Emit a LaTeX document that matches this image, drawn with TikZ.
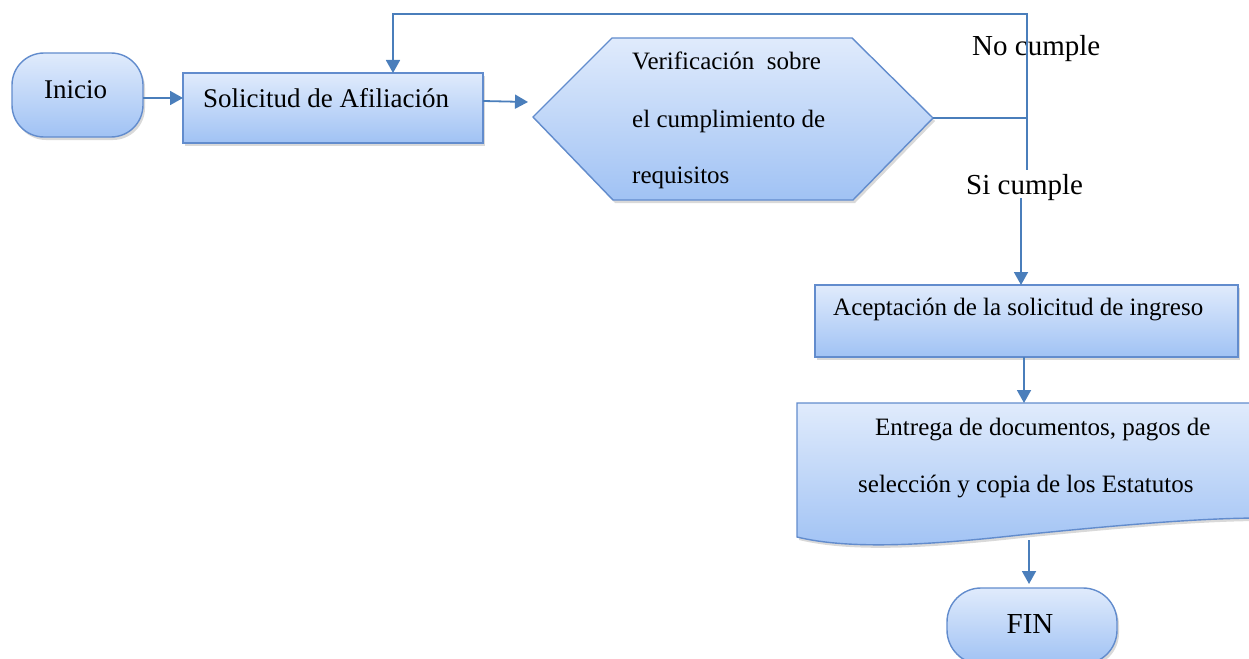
\documentclass[tikz,border=0pt]{standalone}
\usepackage{fontspec}
\setmainfont{Liberation Serif}
\usetikzlibrary{arrows.meta,shadows}
\definecolor{edgec}{RGB}{98,140,205}
\definecolor{topc}{RGB}{224,235,252}
\definecolor{botc}{RGB}{160,194,244}
\definecolor{connc}{RGB}{74,126,187}
\tikzset{
 boxshape/.style={draw=edgec, line width=1.4pt, top color=topc, bottom color=botc,
   drop shadow={shadow xshift=2pt,shadow yshift=-3pt,opacity=0.3}},
 flow/.style={draw=connc, line width=1.8pt, -{Triangle[length=13pt,width=14pt]}},
 plain/.style={draw=connc, line width=1.8pt},
 big/.style={font=\fontsize{27}{31}\selectfont, inner sep=0pt, anchor=base west},
 lbl/.style={font=\fontsize{29}{33}\selectfont, inner sep=0pt, anchor=base west},
 small/.style={font=\fontsize{25}{29}\selectfont, inner sep=0pt, anchor=base west},
}
\begin{document}
\begin{tikzpicture}[x=1pt,y=-1pt]
\useasboundingbox (0,0) rectangle (1249,658);

% shapes
\node[boxshape, rounded corners=32pt, minimum width=131pt, minimum height=84pt, inner sep=0pt] (inicio) at (77.5,95) {};
\node[boxshape, minimum width=300pt, minimum height=70pt, inner sep=0pt] (sol) at (333,108) {};
\coordinate (hexL) at (533,117);
\coordinate (hexR) at (933,118);
\path[boxshape] (hexL) -- (612,38) -- (852,38) -- (hexR) -- (853,200) -- (613,200) -- cycle;
\node[boxshape, minimum width=423pt, minimum height=72pt, inner sep=0pt] (acep) at (1026.5,321) {};
\path[boxshape] (797,403) -- (1262,403) -- (1262,518)
  .. controls (1200,518) and (1120,525) .. (1020,535)
  .. controls (930,545) and (850,550) .. (797,537) -- cycle;
\node[boxshape, rounded corners=34pt, minimum width=170pt, minimum height=76pt, inner sep=0pt] (fin) at (1032,626) {};

% texts
\node[big] (tinicio) at (44,99) {Inicio};
\node[big] (tsol) at (203,107) {Solicitud de Afiliación};
\node[small] (th1) at (632,70) {Verificación\ \ sobre};
\node[small] (th2) at (632,128) {el cumplimiento de};
\node[small] (th3) at (632,183) {requisitos};
\node[small] (tacep) at (833,315) {Aceptación de la solicitud de ingreso};
\node[small] (td1) at (875,435) {Entrega de documentos, pagos de};
\node[small] (td2) at (858,492) {selección y copia de los Estatutos};
\node[lbl, anchor=base] (tfin) at (1030,633) {FIN};
\node[lbl] (nolbl) at (972,56) {No cumple};
\node[lbl] (silbl) at (966,194) {Si cumple};

% connectors
\coordinate (iniOut) at (143,98);
\coordinate (solIn) at (183,98);
\coordinate (solOut) at (483,101);
\coordinate (hexIn) at (528,102);
\coordinate (J) at (1027,118);
\coordinate (topR) at (1027,14);
\coordinate (solTop) at (393,73);
\coordinate (siTop) at (1027,170);
\coordinate (siBot) at (1021,198);
\coordinate (acepIn) at (1021,285);
\coordinate (acepOut) at (1024,357);
\coordinate (docIn) at (1024,403);
\coordinate (docOut) at (1029,540);
\coordinate (finIn) at (1029,584);

\draw[flow] (iniOut) -- (solIn);
\draw[flow] (solOut) -- (hexIn);
\draw[plain] (hexR) -- (J);
\draw[flow] (J) -- (topR) -| (solTop);
\draw[plain] (J) -- (siTop);
\draw[flow] (siBot) -- (acepIn);
\draw[flow] (acepOut) -- (docIn);
\draw[flow] (docOut) -- (finIn);
\end{tikzpicture}
\end{document}
